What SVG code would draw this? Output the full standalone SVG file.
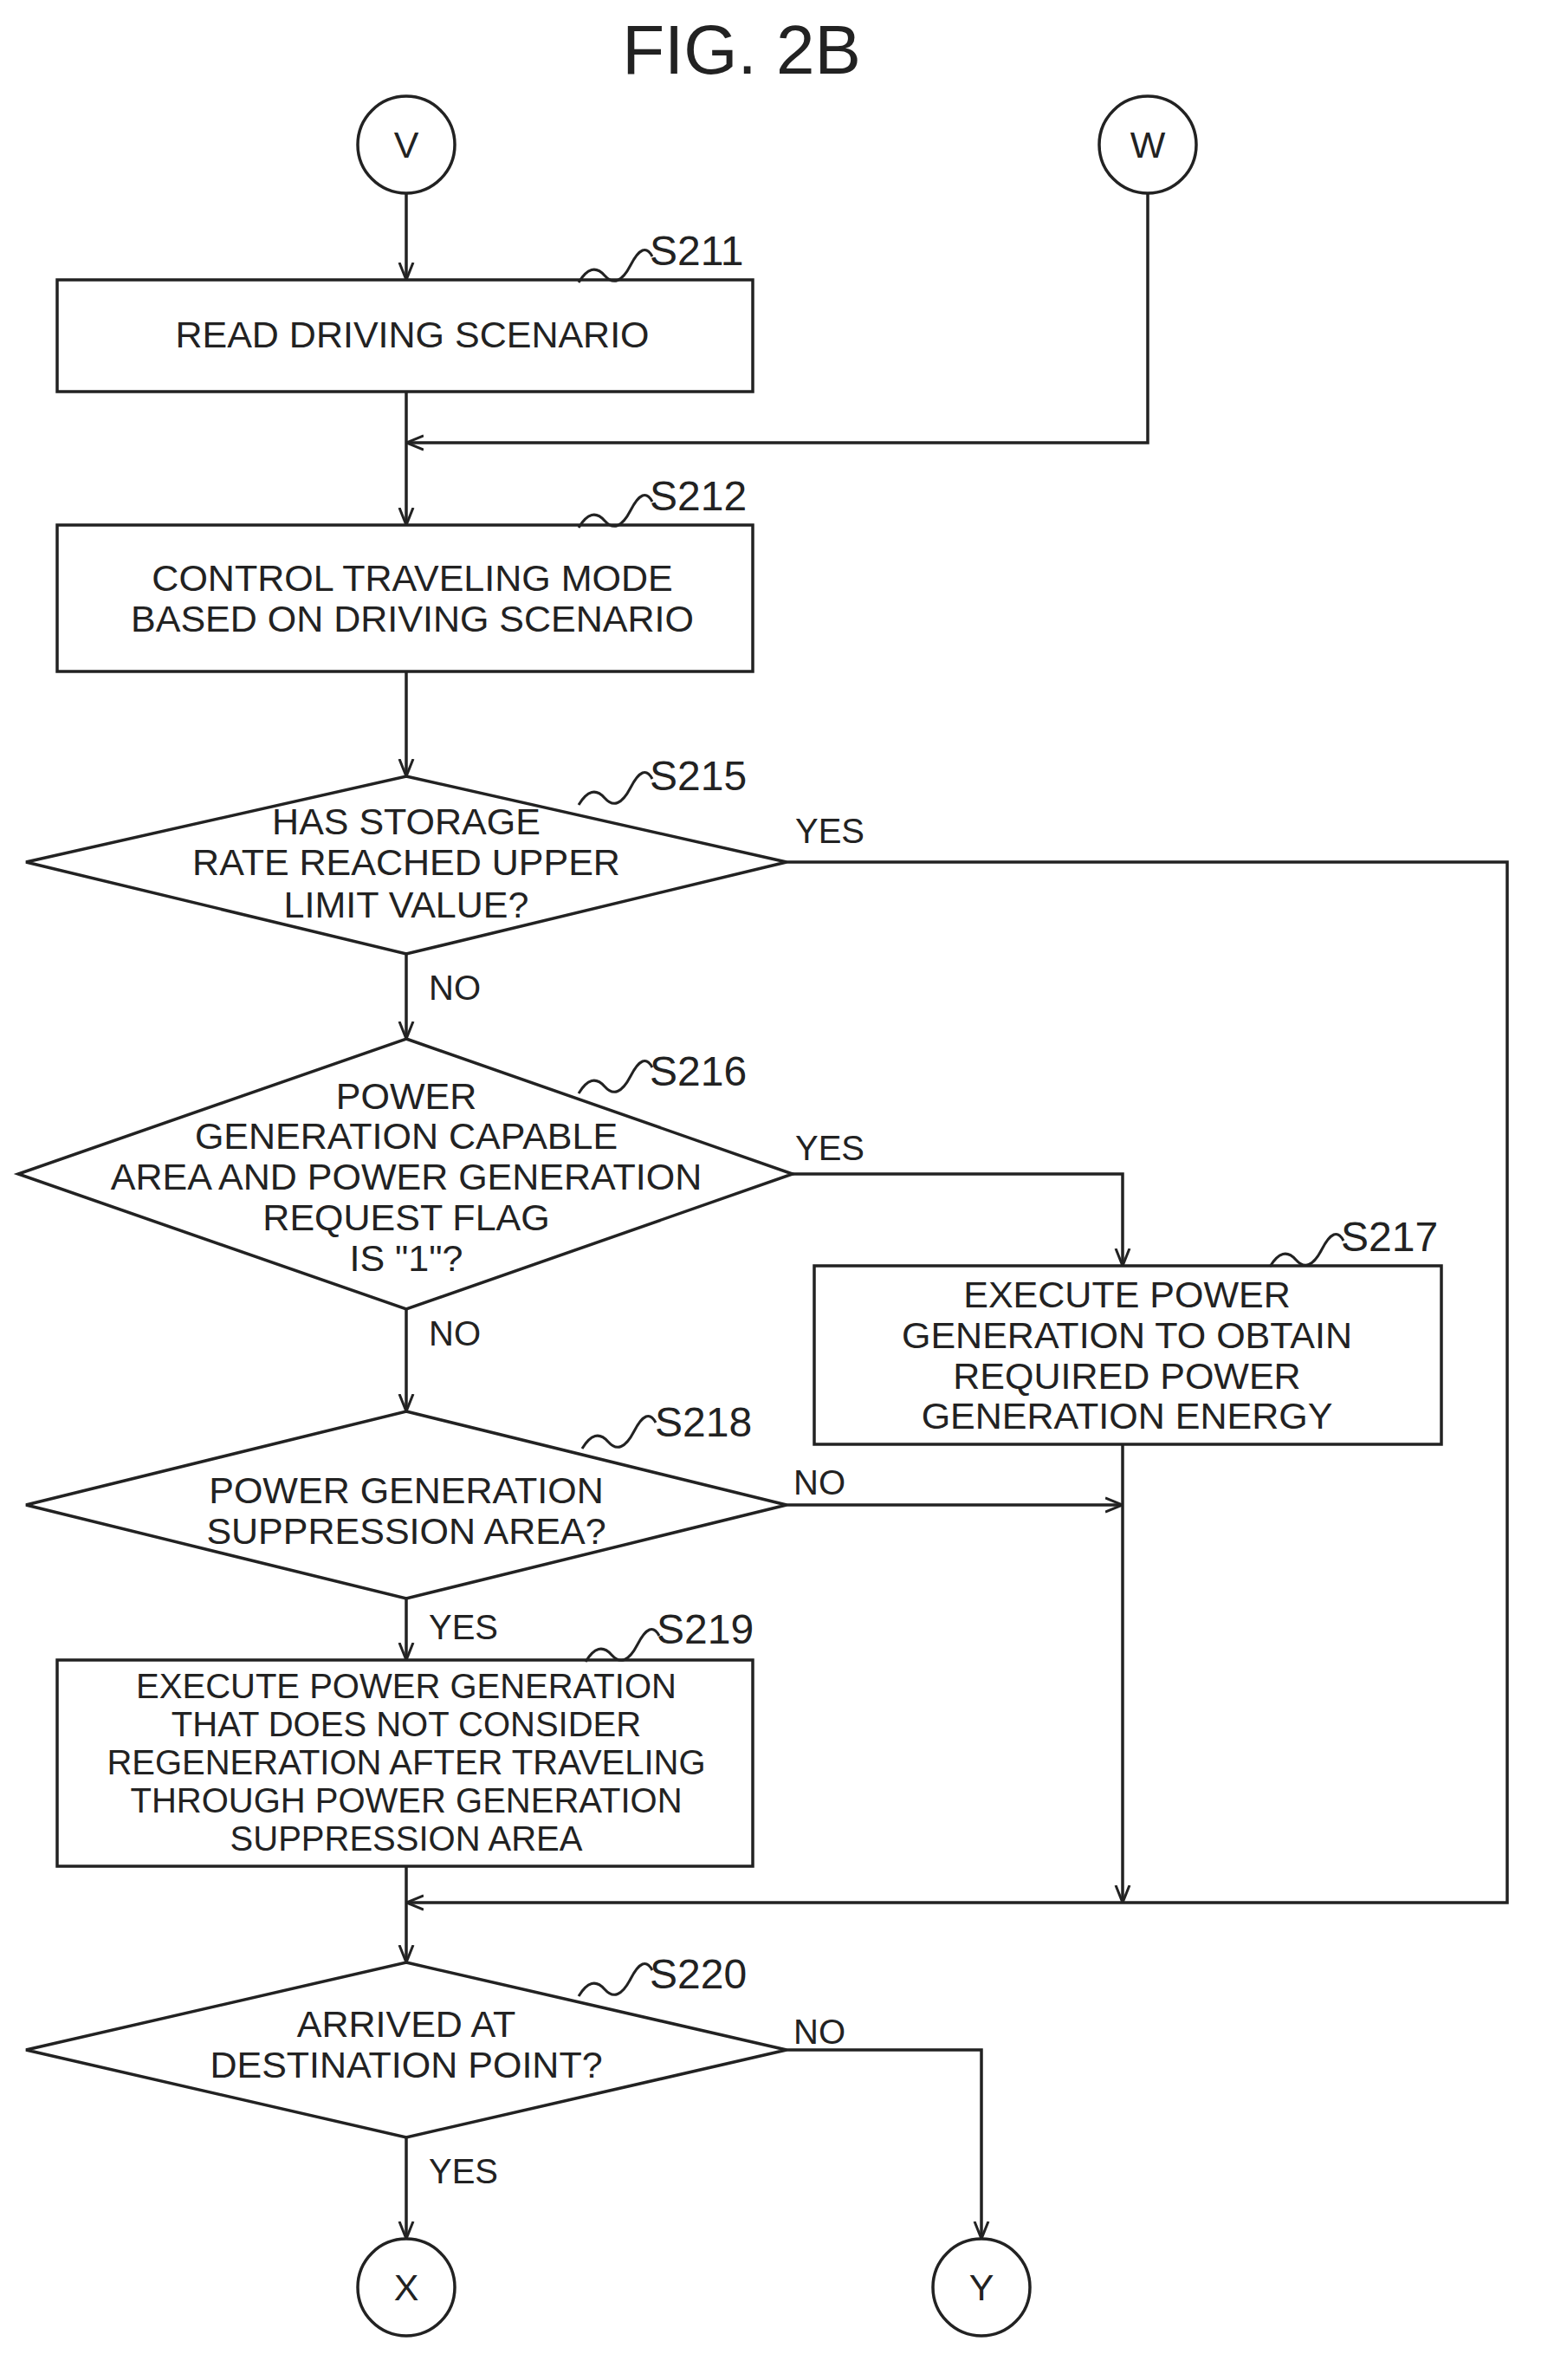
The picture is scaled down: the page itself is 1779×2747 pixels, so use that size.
<svg xmlns="http://www.w3.org/2000/svg" width="1779" height="2747" viewBox="0 0 1779 2747">
<defs>
<marker id="a" viewBox="0 0 20 20" refX="20" refY="10" markerWidth="20" markerHeight="20" markerUnits="userSpaceOnUse" orient="auto"><path d="M0,2 L20,10 L0,18" fill="none" stroke="#222" stroke-width="3"/></marker>
<style>
.s{fill:#fff;stroke:#222;stroke-width:3.5}
.c{fill:none;stroke:#222;stroke-width:3.5}
.t{font-family:"Liberation Sans",Arial,sans-serif;font-size:43px;fill:#222;text-anchor:middle}
.u{font-family:"Liberation Sans",Arial,sans-serif;font-size:40px;fill:#222;text-anchor:middle}
.l{font-family:"Liberation Sans",Arial,sans-serif;font-size:48px;fill:#222}
.y{font-family:"Liberation Sans",Arial,sans-serif;font-size:40px;fill:#222}
.q{fill:none;stroke:#222;stroke-width:3}
</style>
</defs>
<rect width="1779" height="2747" fill="#fff"/>
<text x="856" y="85" class="t" style="font-size:80px">FIG. 2B</text>
<g id="connectors">
<path class="c" d="M469,223 V323" marker-end="url(#a)"/>
<path class="c" d="M1325,223 V511 H469" marker-end="url(#a)"/>
<path class="c" d="M469,452 V606" marker-end="url(#a)"/>
<path class="c" d="M469,775 V896" marker-end="url(#a)"/>
<path class="c" d="M908,995 H1740 V2196 H469" marker-end="url(#a)"/>
<path class="c" d="M469,1101 V1199" marker-end="url(#a)"/>
<path class="c" d="M915,1355 H1296 V1461" marker-end="url(#a)"/>
<path class="c" d="M469,1511 V1629" marker-end="url(#a)"/>
<path class="c" d="M908,1737 H1296" marker-end="url(#a)"/>
<path class="c" d="M1296,1667 V2196" marker-end="url(#a)"/>
<path class="c" d="M469,1845 V1916" marker-end="url(#a)"/>
<path class="c" d="M469,2154 V2265" marker-end="url(#a)"/>
<path class="c" d="M908,2366 H1133 V2584" marker-end="url(#a)"/>
<path class="c" d="M469,2467 V2584" marker-end="url(#a)"/>
<text x="918" y="973" class="y">YES</text>
<text x="495" y="1154" class="y">NO</text>
<text x="918" y="1339" class="y">YES</text>
<text x="495" y="1553" class="y">NO</text>
<text x="916" y="1725" class="y">NO</text>
<text x="495" y="1892" class="y">YES</text>
<text x="916" y="2359" class="y">NO</text>
<text x="495" y="2520" class="y">YES</text>
</g>
<g id="V"><circle cx="469" cy="167" r="56" class="s"/><text x="469" y="182" class="t">V</text></g>
<g id="W"><circle cx="1325" cy="167" r="56" class="s"/><text x="1325" y="182" class="t">W</text></g>
<g id="S211"><rect x="66" y="323" width="803" height="129" class="s"/><text x="476" y="401" class="t">READ DRIVING SCENARIO</text>
<path class="q" d="M668,326 q15,-25 30,-8 t30,-12 t25,-10"/><text x="750" y="306" class="l">S211</text></g>
<g id="S212"><rect x="66" y="606" width="803" height="169" class="s"/><text x="476" y="682" class="t">CONTROL TRAVELING MODE</text><text x="476" y="729" class="t">BASED ON DRIVING SCENARIO</text>
<path class="q" d="M668,609 q15,-25 30,-8 t30,-12 t25,-10"/><text x="750" y="589" class="l">S212</text></g>
<g id="S215"><polygon points="469,896 908,995 469,1101 30,995" class="s"/><text x="469" y="963" class="t">HAS STORAGE</text><text x="469" y="1010" class="t">RATE REACHED UPPER</text><text x="469" y="1059" class="t">LIMIT VALUE?</text>
<path class="q" d="M668,929 q15,-25 30,-8 t30,-12 t25,-10"/><text x="750" y="912" class="l">S215</text></g>
<g id="S216"><polygon points="469,1199 915,1355 469,1511 21,1355" class="s"/><text x="469" y="1280" class="t">POWER</text><text x="469" y="1326" class="t">GENERATION CAPABLE</text><text x="469" y="1373" class="t">AREA AND POWER GENERATION</text><text x="469" y="1420" class="t">REQUEST FLAG</text><text x="469" y="1467" class="t">IS "1"?</text>
<path class="q" d="M668,1262 q15,-25 30,-8 t30,-12 t25,-10"/><text x="750" y="1253" class="l">S216</text></g>
<g id="S217"><rect x="940" y="1461" width="724" height="206" class="s"/><text x="1301" y="1509" class="t">EXECUTE POWER</text><text x="1301" y="1556" class="t">GENERATION TO OBTAIN</text><text x="1301" y="1603" class="t">REQUIRED POWER</text><text x="1301" y="1649" class="t">GENERATION ENERGY</text>
<path class="q" d="M1466,1462 q15,-25 30,-8 t30,-12 t25,-10"/><text x="1548" y="1444" class="l">S217</text></g>
<g id="S218"><polygon points="469,1629 908,1737 469,1845 30,1737" class="s"/><text x="469" y="1735" class="t">POWER GENERATION</text><text x="469" y="1782" class="t">SUPPRESSION AREA?</text>
<path class="q" d="M672,1672 q15,-25 30,-8 t30,-12 t25,-10"/><text x="756" y="1658" class="l">S218</text></g>
<g id="S219"><rect x="66" y="1916" width="803" height="238" class="s"/><text x="469" y="1960" class="u">EXECUTE POWER GENERATION</text><text x="469" y="2004" class="u">THAT DOES NOT CONSIDER</text><text x="469" y="2048" class="u">REGENERATION AFTER TRAVELING</text><text x="469" y="2092" class="u">THROUGH POWER GENERATION</text><text x="469" y="2136" class="u">SUPPRESSION AREA</text>
<path class="q" d="M676,1918 q15,-25 30,-8 t30,-12 t25,-10"/><text x="758" y="1897" class="l">S219</text></g>
<g id="S220"><polygon points="469,2265 908,2366 469,2467 30,2366" class="s"/><text x="469" y="2351" class="t">ARRIVED AT</text><text x="469" y="2398" class="t">DESTINATION POINT?</text>
<path class="q" d="M668,2304 q15,-25 30,-8 t30,-12 t25,-10"/><text x="750" y="2295" class="l">S220</text></g>
<g id="X"><circle cx="469" cy="2640" r="56" class="s"/><text x="469" y="2655" class="t">X</text></g>
<g id="Y"><circle cx="1133" cy="2640" r="56" class="s"/><text x="1133" y="2655" class="t">Y</text></g>
</svg>
